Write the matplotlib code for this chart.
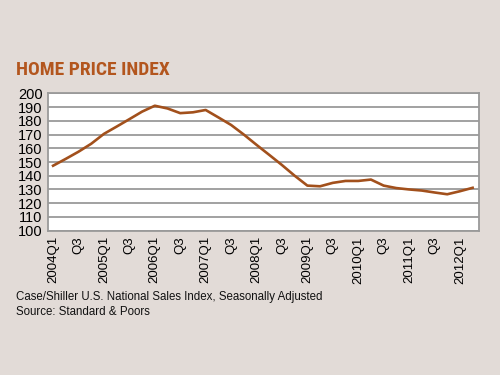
import matplotlib
matplotlib.use("Agg")
import matplotlib.pyplot as plt
import numpy as np

# quarterly index, 2004Q1 .. 2012Q2
quarters = ["2004Q1", "Q2", "Q3", "Q4", "2005Q1", "Q2", "Q3", "Q4",
            "2006Q1", "Q2", "Q3", "Q4", "2007Q1", "Q2", "Q3", "Q4",
            "2008Q1", "Q2", "Q3", "Q4", "2009Q1", "Q2", "Q3", "Q4",
            "2010Q1", "Q2", "Q3", "Q4", "2011Q1", "Q2", "Q3", "Q4",
            "2012Q1", "Q2"]
index_vals = [147.3, 152.3, 157.5, 163.3, 170.5, 175.8, 181.2, 186.7,
              191.0, 189.0, 185.6, 186.2, 187.9, 182.5, 177.0, 170.0,
              162.5, 155.2, 147.8, 140.0, 132.8, 132.3, 134.8, 136.2,
              136.2, 137.2, 132.8, 131.0, 130.0, 129.2, 127.8, 126.5,
              128.7, 131.2]
yticks = list(range(100, 201, 10))

bg = "#e2dbd7"
brown = "#a2501c"
grid_c = "#9a9a9a"

plt.rcParams["font.family"] = ["Liberation Sans", "DejaVu Sans"]

fig = plt.figure(figsize=(5, 3.75), dpi=100, facecolor=bg)
ax = fig.add_axes([0.096, 0.385, 0.862, 0.366])
ax.set_facecolor("white")

x = np.arange(len(index_vals))
ax.plot(x, index_vals, color=brown, lw=1.9, zorder=3, solid_joinstyle="round")

ax.set_ylim(100, 200)
ax.set_yticks(yticks)
ax.set_yticklabels([str(v) for v in yticks], fontsize=10.5)
ax.set_xlim(-0.4, len(index_vals) - 0.5)
ax.set_xticks(x[::2])
ax.set_xticklabels(quarters[::2], rotation=90, fontsize=9.5)
ax.tick_params(length=0, pad=4)
ax.yaxis.grid(True, color=grid_c, lw=1.3)
ax.set_axisbelow(True)
for s in ax.spines.values():
    s.set_color(grid_c)
    s.set_linewidth(1.3)

# title in a condensed heavy face
fig.text(0.032, 0.813, "HOME PRICE INDEX", color="#b3561e", fontsize=14,
         fontweight="heavy", family=["Roboto Condensed", "DejaVu Sans"],
         stretch="condensed", va="center")
fig.text(0.032, 0.208, "Case/Shiller U.S. National Sales Index, Seasonally Adjusted",
         fontsize=8.3, va="center", color="#111111")
fig.text(0.032, 0.168, "Source: Standard & Poors", fontsize=8.3, va="center",
         color="#111111")

fig.savefig("out.png", dpi=100, facecolor=bg)
